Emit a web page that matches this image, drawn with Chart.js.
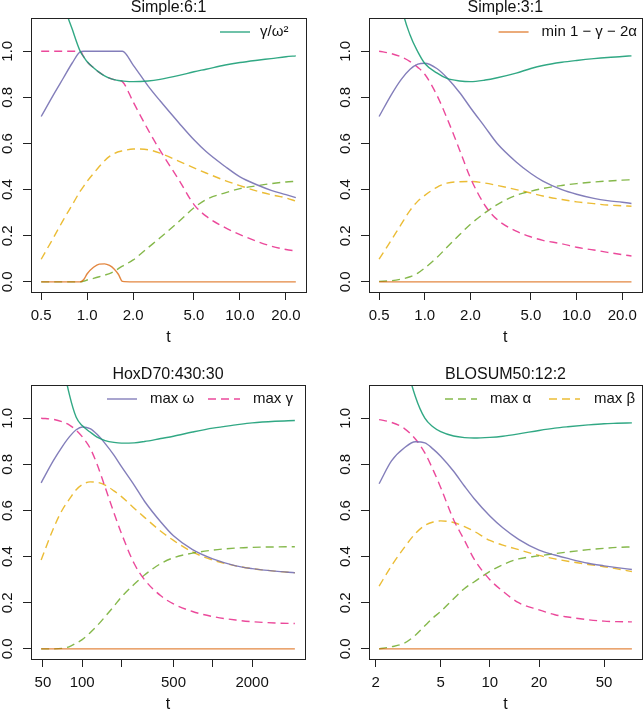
<!DOCTYPE html>
<html><head><meta charset="utf-8">
<script src="https://cdn.jsdelivr.net/npm/chart.js@4.4.1/dist/chart.umd.min.js"></script>
<style>
html,body{margin:0;padding:0;background:#fff;}
#wrap{position:relative;width:644px;height:715px;overflow:hidden;}
canvas{position:absolute;}
</style></head><body>
<div id="wrap">
<canvas id="c1" width="322" height="357" style="left:0;top:0"></canvas>
<canvas id="c2" width="322" height="357" style="left:322px;top:0"></canvas>
<canvas id="c3" width="322" height="358" style="left:0;top:357px"></canvas>
<canvas id="c4" width="322" height="358" style="left:322px;top:357px"></canvas>
</div>
<script>
// ---------- series names ----------
const seriesNames = ['γ/ω²', 'min 1 − γ − 2α', 'max ω', 'max γ', 'max α', 'max β'];
const panelTitles = ['Simple:6:1', 'Simple:3:1', 'HoxD70:430:30', 'BLOSUM50:12:2'];
const yTicks = [0, 0.2, 0.4, 0.6, 0.8, 1.0];
const yTickLabels = ['0.0', '0.2', '0.4', '0.6', '0.8', '1.0'];

// ---------- Panel 1: Simple:6:1 ----------
const p1_t = [0.5, 0.6, 0.7, 0.8, 0.9, 0.95, 1.0, 1.1, 1.2, 1.3, 1.4, 1.5, 1.6, 1.7, 2.0, 2.5, 3, 4, 5, 6, 8, 10, 13, 16, 20, 23.2];
const p1_ratio = [1.8, 1.45, 1.21, 1.094, 1.0, 0.975, 0.954, 0.928, 0.908, 0.893, 0.883, 0.877, 0.873, 0.871, 0.868, 0.871, 0.878, 0.895, 0.911, 0.922, 0.94, 0.951, 0.961, 0.968, 0.976, 0.98];
const p1_min = [0, 0, 0, 0, 0, 0.01, 0.035, 0.063, 0.077, 0.078, 0.071, 0.056, 0.033, 0.002, 0, 0, 0, 0, 0, 0, 0, 0, 0, 0, 0, 0];
const p1_maxOmega = [0.717, 0.81, 0.885, 0.95, 0.997, 1.0, 1.0, 1.0, 1.0, 1.0, 1.0, 1.0, 1.0, 1.0, 0.94, 0.85, 0.785, 0.688, 0.616, 0.565, 0.5, 0.455, 0.42, 0.397, 0.378, 0.365];
const p1_maxGamma = [1.0, 1.0, 1.0, 1.0, 1.0, 0.975, 0.954, 0.928, 0.908, 0.893, 0.883, 0.877, 0.873, 0.868, 0.78, 0.66, 0.57, 0.44, 0.335, 0.285, 0.235, 0.205, 0.175, 0.155, 0.14, 0.134];
const p1_maxAlpha = [0, 0, 0, 0, 0, 0.003, 0.008, 0.015, 0.022, 0.029, 0.036, 0.045, 0.057, 0.068, 0.095, 0.148, 0.191, 0.263, 0.321, 0.357, 0.386, 0.404, 0.417, 0.426, 0.433, 0.436];
const p1_maxBeta = [0.098, 0.19, 0.27, 0.335, 0.393, 0.415, 0.436, 0.47, 0.5, 0.525, 0.544, 0.556, 0.564, 0.568, 0.576, 0.573, 0.558, 0.522, 0.494, 0.472, 0.439, 0.417, 0.393, 0.378, 0.364, 0.35];
const p1_xTicks = [0.5, 1, 2, 5, 10, 20];
const p1_xLabels = ['0.5', '1.0', '2.0', '5.0', '10.0', '20.0'];

// ---------- Panel 2: Simple:3:1 ----------
const p2_t = [0.5, 0.6, 0.7, 0.8, 0.9, 1.0, 1.2, 1.4, 1.7, 2.0, 2.5, 3, 4, 5, 6, 8, 10, 13, 16, 20, 23];
const p2_ratio = [1.9, 1.5, 1.2, 1.07, 0.997, 0.947, 0.906, 0.882, 0.871, 0.868, 0.875, 0.885, 0.905, 0.925, 0.938, 0.952, 0.96, 0.968, 0.973, 0.977, 0.98];
const p2_min = [0, 0, 0, 0, 0, 0, 0, 0, 0, 0, 0, 0, 0, 0, 0, 0, 0, 0, 0, 0, 0];
const p2_maxOmega = [0.717, 0.81, 0.878, 0.922, 0.944, 0.948, 0.925, 0.885, 0.82, 0.755, 0.67, 0.6, 0.52, 0.47, 0.437, 0.4, 0.38, 0.362, 0.352, 0.345, 0.34];
const p2_maxGamma = [1.0, 0.99, 0.975, 0.955, 0.93, 0.9, 0.81, 0.71, 0.57, 0.45, 0.33, 0.27, 0.22, 0.195, 0.18, 0.165, 0.15, 0.138, 0.128, 0.118, 0.112];
const p2_maxAlpha = [0.002, 0.005, 0.012, 0.022, 0.038, 0.06, 0.105, 0.15, 0.205, 0.25, 0.3, 0.335, 0.375, 0.393, 0.405, 0.418, 0.426, 0.433, 0.437, 0.441, 0.443];
const p2_maxBeta = [0.098, 0.18, 0.25, 0.31, 0.35, 0.375, 0.41, 0.428, 0.434, 0.435, 0.428, 0.418, 0.4, 0.385, 0.372, 0.357, 0.347, 0.339, 0.333, 0.33, 0.328];
const p2_xTicks = [0.5, 1, 2, 5, 10, 20];
const p2_xLabels = ['0.5', '1.0', '2.0', '5.0', '10.0', '20.0'];

// ---------- Panel 3: HoxD70:430:30 ----------
const p3_t = [48.5, 60, 70, 80, 90, 100, 115, 130, 150, 175, 200, 250, 300, 400, 500, 700, 1000, 1500, 2000, 3000, 4250];
const p3_ratio = [2.0, 1.55, 1.26, 1.1, 1.004, 0.968, 0.94, 0.918, 0.903, 0.895, 0.892, 0.893, 0.899, 0.912, 0.922, 0.94, 0.957, 0.971, 0.98, 0.987, 0.99];
const p3_min = [0, 0, 0, 0, 0, 0, 0, 0, 0, 0, 0, 0, 0, 0, 0, 0, 0, 0, 0, 0, 0];
const p3_maxOmega = [0.72, 0.815, 0.875, 0.92, 0.95, 0.962, 0.955, 0.93, 0.89, 0.84, 0.79, 0.71, 0.64, 0.55, 0.49, 0.43, 0.39, 0.36, 0.348, 0.337, 0.33];
const p3_maxGamma = [1.0, 0.995, 0.985, 0.97, 0.948, 0.92, 0.87, 0.8, 0.7, 0.59, 0.5, 0.37, 0.3, 0.23, 0.195, 0.162, 0.14, 0.125, 0.118, 0.112, 0.11];
const p3_maxAlpha = [0, 0, 0.002, 0.01, 0.025, 0.04, 0.07, 0.1, 0.14, 0.185, 0.225, 0.28, 0.32, 0.37, 0.395, 0.415, 0.428, 0.437, 0.44, 0.442, 0.443];
const p3_maxBeta = [0.385, 0.52, 0.6, 0.65, 0.69, 0.712, 0.724, 0.722, 0.71, 0.685, 0.66, 0.61, 0.57, 0.51, 0.47, 0.42, 0.385, 0.36, 0.348, 0.337, 0.33];
const p3_xTicks = [50, 100, 200, 500, 1000, 2000];
const p3_xLabels = ['50', '100', '', '500', '', '2000'];

// ---------- Panel 4: BLOSUM50:12:2 ----------
const p4_t = [2.1, 2.5, 3, 3.5, 4, 4.5, 5, 6, 7, 8, 10, 12, 15, 20, 25, 30, 40, 50, 60, 74];
const p4_ratio = [2.0, 1.6, 1.27, 1.094, 1.0, 0.962, 0.942, 0.923, 0.916, 0.914, 0.917, 0.922, 0.932, 0.947, 0.957, 0.963, 0.971, 0.976, 0.978, 0.98];
const p4_min = [0, 0, 0, 0, 0, 0, 0, 0, 0, 0, 0, 0, 0, 0, 0, 0, 0, 0, 0, 0];
const p4_maxOmega = [0.716, 0.815, 0.872, 0.898, 0.893, 0.866, 0.835, 0.77, 0.705, 0.652, 0.576, 0.525, 0.475, 0.428, 0.407, 0.392, 0.371, 0.36, 0.352, 0.344];
const p4_maxGamma = [0.994, 0.982, 0.955, 0.91, 0.85, 0.775, 0.7, 0.56, 0.47, 0.39, 0.3, 0.25, 0.2, 0.169, 0.148, 0.138, 0.126, 0.12, 0.118, 0.117];
const p4_maxAlpha = [0, 0.009, 0.025, 0.059, 0.1, 0.135, 0.162, 0.217, 0.262, 0.29, 0.336, 0.365, 0.39, 0.403, 0.413, 0.42, 0.43, 0.436, 0.44, 0.442];
const p4_maxBeta = [0.272, 0.36, 0.44, 0.5, 0.535, 0.55, 0.555, 0.548, 0.53, 0.51, 0.47, 0.45, 0.43, 0.405, 0.39, 0.38, 0.366, 0.356, 0.347, 0.335];
const p4_xTicks = [2, 5, 10, 20, 50];
const p4_xLabels = ['2', '5', '10', '20', '50'];

// ---------- styling ----------
const FONT = '"Liberation Sans", Arial, Helvetica, sans-serif';
const colors = ['rgba(27,158,119,0.9)', 'rgba(217,95,2,0.75)', 'rgba(117,112,179,0.9)', 'rgba(231,41,138,0.85)', 'rgba(102,166,30,0.8)', 'rgba(230,171,2,0.8)'];
const dashes = [[], [], [], [8, 5], [8, 5], [8, 5]];

const panels = [
  { id: 'c1', title: panelTitles[0], t: p1_t, series: [p1_ratio, p1_min, p1_maxOmega, p1_maxGamma, p1_maxAlpha, p1_maxBeta], xTicks: p1_xTicks, xLabels: p1_xLabels,
    box: { L: 31, T: 18, R: 306, B: 292 }, legend: [{ s: 0, line0: -86, line1: -56, text: -46 }] },
  { id: 'c2', title: panelTitles[1], t: p2_t, series: [p2_ratio, p2_min, p2_maxOmega, p2_maxGamma, p2_maxAlpha, p2_maxBeta], xTicks: p2_xTicks, xLabels: p2_xLabels,
    box: { L: 47, T: 18, R: 320, B: 292 }, legend: [{ s: 1, line0: -143, line1: -113, text: -100 }] },
  { id: 'c3', title: panelTitles[2], t: p3_t, series: [p3_ratio, p3_min, p3_maxOmega, p3_maxGamma, p3_maxAlpha, p3_maxBeta], xTicks: p3_xTicks, xLabels: p3_xLabels,
    box: { L: 31, T: 28, R: 305, B: 302 }, legend: [{ s: 2, line0: -198, line1: -168, text: -155 }, { s: 3, line0: -97, line1: -65, text: -52 }] },
  { id: 'c4', title: panelTitles[3], t: p4_t, series: [p4_ratio, p4_min, p4_maxOmega, p4_maxGamma, p4_maxAlpha, p4_maxBeta], xTicks: p4_xTicks, xLabels: p4_xLabels,
    box: { L: 47, T: 28, R: 320, B: 302 }, legend: [{ s: 4, line0: -197, line1: -165, text: -152 }, { s: 5, line0: -93, line1: -62, text: -48 }] }
];

// R-style 4% axis expansion on a log axis
function logRange(t) {
  const a = Math.log10(t[0]), b = Math.log10(t[t.length - 1]);
  const m = (b - a) * 0.04;
  return [Math.pow(10, a - m), Math.pow(10, b + m)];
}

const decor = {
  id: 'decor',
  afterDraw(chart, args, opts) {
    const { ctx, chartArea: a } = chart;
    ctx.save();
    ctx.strokeStyle = '#222';
    ctx.lineWidth = 1;
    ctx.setLineDash([]);
    ctx.strokeRect(Math.round(a.left) + 0.5, Math.round(a.top) + 0.5, Math.round(a.right - a.left), Math.round(a.bottom - a.top));
    ctx.fillStyle = '#111';
    ctx.textAlign = 'center';
    ctx.textBaseline = 'middle';
    ctx.font = '16px ' + FONT;
    ctx.fillText(opts.title, (a.left + a.right) / 2, a.top - 10);
    ctx.fillText('t', (a.left + a.right) / 2, a.bottom + 46);
    ctx.font = '15px ' + FONT;
    ctx.textAlign = 'left';
    const y = a.top + 14;
    opts.legend.forEach(it => {
      const ds = chart.data.datasets[it.s];
      ctx.strokeStyle = ds.borderColor;
      ctx.lineWidth = ds.borderWidth;
      ctx.setLineDash(ds.borderDash || []);
      ctx.beginPath();
      ctx.moveTo(a.right + it.line0, y);
      ctx.lineTo(a.right + it.line1, y);
      ctx.stroke();
      ctx.setLineDash([]);
      ctx.fillStyle = '#111';
      ctx.fillText(ds.label, a.right + it.text, y);
    });
    ctx.restore();
  }
};

panels.forEach(p => {
  const cv = document.getElementById(p.id);
  const W = cv.width, H = cv.height;
  const [xmin, xmax] = logRange(p.t);
  const datasets = p.series.map((vals, k) => ({
    label: seriesNames[k],
    data: p.t.map((x, i) => ({ x: x, y: vals[i] })),
    borderColor: colors[k],
    borderWidth: 1.4,
    borderDash: dashes[k],
    pointRadius: 0,
    fill: false,
    cubicInterpolationMode: 'monotone'
  }));
  new Chart(cv, {
    type: 'line',
    data: { datasets: datasets },
    options: {
      responsive: false,
      animation: false,
      devicePixelRatio: 1,
      layout: { padding: { left: 0, top: p.box.T, right: W - p.box.R, bottom: 0 } },
      plugins: {
        legend: { display: false },
        tooltip: { enabled: false },
        decor: { title: p.title, legend: p.legend }
      },
      scales: {
        x: {
          type: 'logarithmic',
          min: xmin, max: xmax,
          afterBuildTicks: s => { s.ticks = p.xTicks.map(v => ({ value: v })); },
          afterFit: s => { s.height = H - p.box.B; },
          ticks: {
            autoSkip: false, maxRotation: 0, minRotation: 0, padding: 7,
            color: '#111', font: { family: FONT, size: 15 },
            callback: (v, i) => p.xLabels[i]
          },
          grid: { drawOnChartArea: false, drawTicks: true, tickLength: 8, color: '#222', lineWidth: 1 },
          border: { display: false }
        },
        y: {
          type: 'linear',
          min: -0.044, max: 1.144,
          afterBuildTicks: s => { s.ticks = yTicks.map(v => ({ value: v })); },
          afterFit: s => { s.width = p.box.L; },
          ticks: {
            minRotation: 90, maxRotation: 90, crossAlign: 'center', padding: 5,
            color: '#111', font: { family: FONT, size: 15 },
            callback: (v, i) => yTickLabels[i]
          },
          grid: { drawOnChartArea: false, drawTicks: true, tickLength: 8, color: '#222', lineWidth: 1 },
          border: { display: false }
        }
      }
    },
    plugins: [decor]
  });
});
</script>
</body></html>
